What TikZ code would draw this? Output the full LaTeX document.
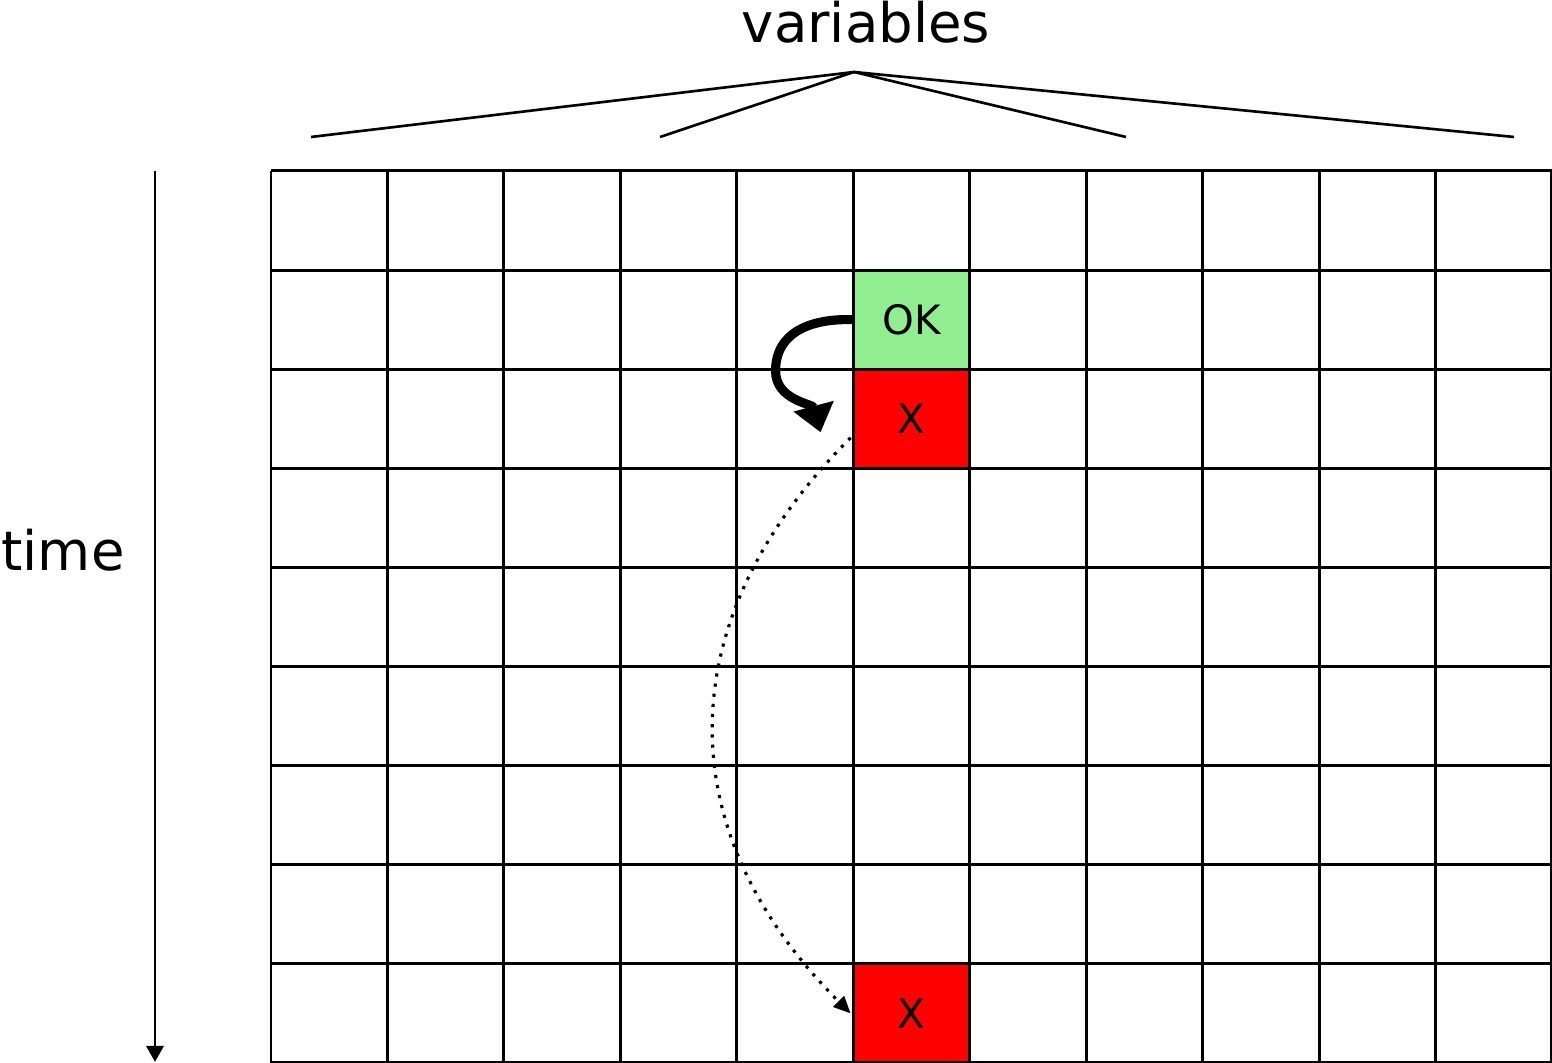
\documentclass[tikz,border=0pt]{standalone}
\usepackage{fontspec}
\setmainfont{DejaVu Sans}
\usetikzlibrary{arrows.meta}
\definecolor{okgreen}{HTML}{90EE90}
\definecolor{badred}{HTML}{FF0000}
\tikzset{
  gridline/.style={line width=0.85pt},
  cell/.style={minimum width=1.1645cm, minimum height=0.9911cm, inner sep=0pt,
    font=\fontsize{11.5}{13}\selectfont},
  bigtext/.style={font=\fontsize{15.5}{18}\selectfont, inner sep=0pt},
}
\begin{document}
\begin{tikzpicture}
  \useasboundingbox (0,0) rectangle (15.52,-10.63);
  % coloured cells
  \node[cell, fill=okgreen] (ok) at (9.115,-3.197) {OK};
  \node[cell, fill=badred] (xa) at (9.115,-4.188) {X};
  \node[cell, fill=badred] (xb) at (9.115,-10.134) {X};
  % grid
  \foreach \i in {0,...,11}
    \draw[gridline] (2.71+\i*1.1645,-1.71) -- ++(0,-8.92);
  \foreach \j in {0,...,9}
    \draw[gridline] (2.71,-1.71-\j*0.9911) -- ++(12.81,0);
  % labels
  \node[bigtext] (vars) at (8.66,-0.22) {variables};
  \node[bigtext] (time) at (0.63,-5.50) {time};
  \coordinate (apex) at (8.54,-0.72);
  \foreach \x/\n in {3.11/a,6.60/b,11.26/c,15.14/d}
    \coordinate (v\n) at (\x,-1.37);
  \foreach \n in {a,b,c,d}
    \draw[line width=0.75pt] (apex) -- (v\n);
  % time axis
  \coordinate (t0) at (1.55,-1.71);
  \coordinate (t1) at (1.55,-10.62);
  \draw[line width=0.85pt, -{Triangle[length=0.16cm, width=0.17cm]}] (t0) -- (t1);
  % arrows
  \draw[line width=2.6pt, -{Triangle[length=0.27cm, width=0.40cm]}]
    (ok.west) to[out=178, in=90, looseness=1.1] ([xshift=-0.77cm, yshift=0.48cm]xa.west)
    to[out=-90, in=105] ([xshift=-0.32cm, yshift=-0.135cm]xa.west);
  \draw[line width=0.9pt, dotted, -{Triangle[length=0.17cm, width=0.15cm]}]
    ([xshift=-0.02cm, yshift=-0.19cm]xa.west) to[out=225, in=135, looseness=1.15]
    ([xshift=-0.02cm]xb.west);
\end{tikzpicture}
\end{document}
